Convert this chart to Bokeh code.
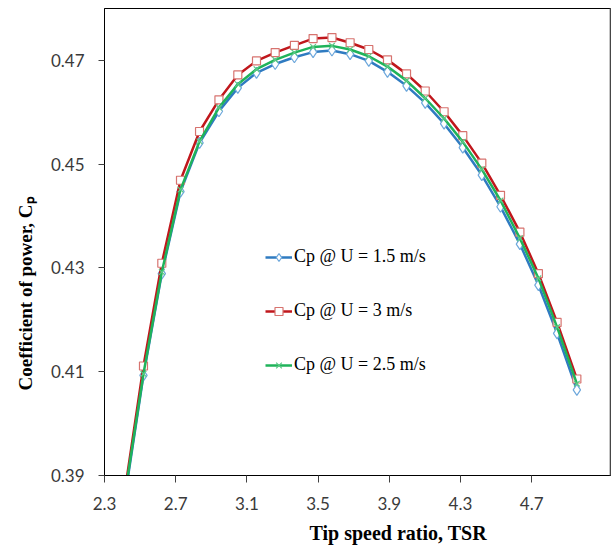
from bokeh.plotting import figure
from bokeh.models import Range1d, FixedTicker, Span, Title
from bokeh.embed import file_html
from bokeh.resources import INLINE

# ---- data ----
tsr = [2.414, 2.519, 2.622, 2.727, 2.834, 2.943, 3.049, 3.154, 3.259, 3.367,
       3.472, 3.578, 3.680, 3.785, 3.890, 3.997, 4.102, 4.208, 4.313, 4.420,
       4.525, 4.634, 4.738, 4.843, 4.954]
cp_u15 = [0.3857, 0.4093, 0.4289, 0.4447, 0.4541, 0.4602, 0.4647, 0.4676, 0.4693, 0.4706,
          0.4716, 0.4719, 0.4712, 0.4699, 0.4678, 0.4651, 0.4618, 0.4578, 0.4532, 0.4479,
          0.4418, 0.4346, 0.4267, 0.4174, 0.4065]
cp_u3 = [0.3869, 0.4111, 0.4309, 0.4469, 0.4563, 0.4624, 0.4672, 0.4699, 0.4715, 0.4729,
         0.4742, 0.4744, 0.4734, 0.4721, 0.4701, 0.4674, 0.4641, 0.4601, 0.4555, 0.4502,
         0.4440, 0.4369, 0.4289, 0.4195, 0.4086]
cp_u25 = [0.3862, 0.4096, 0.4292, 0.4451, 0.4544, 0.4609, 0.4654, 0.4683, 0.4701, 0.4715,
          0.4726, 0.4728, 0.4721, 0.4708, 0.4688, 0.4661, 0.4627, 0.4588, 0.4543, 0.4490,
          0.4430, 0.4357, 0.4280, 0.4186, 0.4077]
x_ticks = [2.3, 2.7, 3.1, 3.5, 3.9, 4.3, 4.7]
x_tick_labels = ["2.3", "2.7", "3.1", "3.5", "3.9", "4.3", "4.7"]
y_ticks = [0.39, 0.41, 0.43, 0.45, 0.47]
y_tick_labels = ["0.39", "0.41", "0.43", "0.45", "0.47"]
series_labels = ["Cp @ U = 1.5 m/s", "Cp @ U = 3 m/s", "Cp @ U = 2.5 m/s"]
x_title = "Tip speed ratio, TSR"
y_title = "Coefficient of power, C\u209a"

X_MIN, X_MAX = 2.3, 5.143
p = figure(width=614, height=552, output_backend="svg", toolbar_location=None,
           x_range=Range1d(X_MIN, X_MAX), y_range=Range1d(0.39, 0.48),
           min_border_left=104, min_border_right=4, min_border_top=8, min_border_bottom=77)
p.xgrid.visible = False
p.ygrid.visible = False
p.background_fill_color = "white"
p.outline_line_color = "black"
p.outline_line_width = 1

tick_font = "Lato"
for ax, ticks, labels in ((p.xaxis, x_ticks, x_tick_labels), (p.yaxis, y_ticks, y_tick_labels)):
    ax.ticker = FixedTicker(ticks=ticks)
    ax.major_label_overrides = {t: l for t, l in zip(ticks, labels)}
    ax.minor_tick_line_color = None
    ax.major_tick_in = 0
    ax.major_tick_line_color = "#404040"
    ax.axis_line_color = "black"
    ax.major_label_text_font = tick_font
    ax.major_label_text_font_size = "17px"
    ax.major_label_text_color = "#3a3a3a"
p.xaxis.major_tick_out = 7
p.yaxis.major_tick_out = 6
p.xaxis.major_label_standoff = 14
p.yaxis.major_label_standoff = 14

# series
blue_line, blue_mk = "#2F7BC1", "#6EA8DC"
red_line, red_mk = "#C0171C", "#D7736F"
green_line, green_mk = "#1FB35A", "#5CC985"

p.line(tsr, cp_u15, line_color=blue_line, line_width=2.5, legend_label=series_labels[0])
p.scatter(tsr, cp_u15, marker="diamond", size=11, line_color=blue_mk, fill_color="white",
          line_width=1.2, legend_label=series_labels[0])
p.line(tsr, cp_u3, line_color=red_line, line_width=2.5, legend_label=series_labels[1])
p.scatter(tsr, cp_u3, marker="square", size=8, line_color=red_mk, fill_color="white",
          line_width=1.2, legend_label=series_labels[1])
p.line(tsr, cp_u25, line_color=green_line, line_width=2.5, legend_label=series_labels[2])
p.scatter(tsr, cp_u25, marker="x", size=8, line_color=green_mk, line_width=1.2,
          legend_label=series_labels[2])

leg = p.legend[0]
leg.location = (161, 100)
leg.padding = 0
leg.margin = 0
leg.spacing = 33
leg.label_height = 20
leg.glyph_height = 20
leg.glyph_width = 27
leg.label_standoff = 2
leg.border_line_color = None
leg.background_fill_alpha = 0
leg.label_text_font = "Liberation Serif"
leg.label_text_font_size = "18px"
leg.label_text_color = "black"

# right frame edge in gray
p.add_layout(Span(location=X_MAX, dimension="height", line_color="#8c8c8c", line_width=2))

# axis titles
p.add_layout(Title(text=x_title, align="left", offset=205, standoff=15, text_line_height=0.8,
                   text_font="Liberation Serif", text_font_style="bold",
                   text_font_size="20px", text_color="black"), "below")
p.add_layout(Title(text=y_title, align="left", offset=85, standoff=24,
                   text_font="Liberation Serif", text_font_style="bold",
                   text_font_size="19px", text_color="black"), "left")

open("out.html", "w").write(file_html(p, INLINE))
